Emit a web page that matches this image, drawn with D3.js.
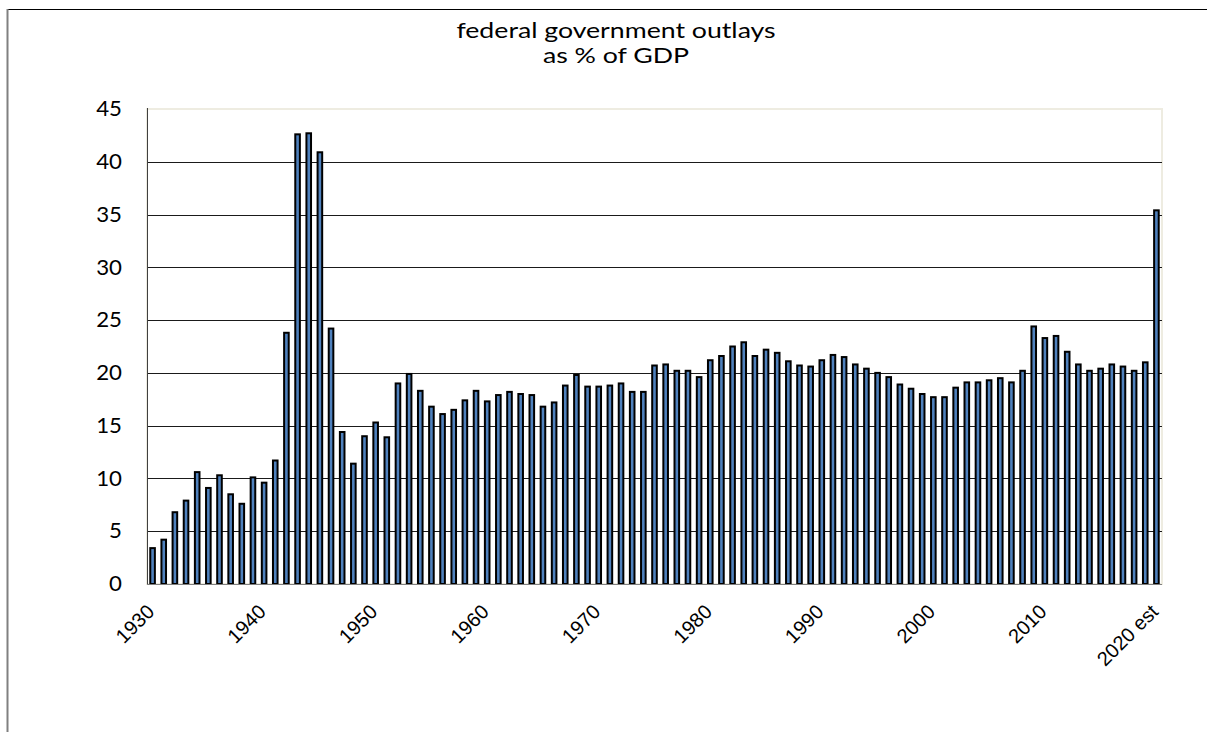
<!DOCTYPE html>
<html>
<head>
<meta charset="utf-8">
<script src="https://cdn.jsdelivr.net/npm/d3@7"></script>
<style>
  html, body { margin: 0; padding: 0; background: #fff; }
  svg { display: block; }
</style>
</head>
<body>
<svg id="chart" width="1207" height="732"></svg>
<script>
const years = d3.range(1930, 2021);
const values = [
  3.4, 4.2, 6.8, 7.9, 10.6, 9.1, 10.3, 8.5, 7.6, 10.1,
  9.6, 11.7, 23.8, 42.6, 42.7, 40.9, 24.2, 14.4, 11.4, 14.0,
  15.3, 13.9, 19.0, 19.9, 18.3, 16.8, 16.1, 16.5, 17.4, 18.3,
  17.3, 17.9, 18.2, 18.0, 17.9, 16.8, 17.2, 18.8, 19.8, 18.7,
  18.7, 18.8, 19.0, 18.2, 18.2, 20.7, 20.8, 20.2, 20.2, 19.6,
  21.2, 21.6, 22.5, 22.9, 21.6, 22.2, 21.9, 21.1, 20.7, 20.6,
  21.2, 21.7, 21.5, 20.8, 20.4, 20.0, 19.6, 18.9, 18.5, 18.0,
  17.7, 17.7, 18.6, 19.1, 19.1, 19.3, 19.5, 19.1, 20.2, 24.4,
  23.3, 23.5, 22.0, 20.8, 20.2, 20.4, 20.8, 20.6, 20.2, 21.0,
  35.4
];
const yTicks = [0, 5, 10, 15, 20, 25, 30, 35, 40, 45];
const xTickLabels = {1930: "1930", 1940: "1940", 1950: "1950", 1960: "1960", 1970: "1970",
                     1980: "1980", 1990: "1990", 2000: "2000", 2010: "2010", 2020: "2020 est"};
const titleLines = ["federal government outlays", "as % of GDP"];

const svg = d3.select("#chart");
const pLeft = 147, pRight = 1162, pTop = 109, pBottom = 584;

// outer frame
svg.append("line").attr("x1", 7).attr("x2", 1207).attr("y1", 9.5).attr("y2", 9.5)
  .attr("stroke", "#000").attr("stroke-width", 1);
svg.append("line").attr("x1", 7.5).attr("x2", 7.5).attr("y1", 9).attr("y2", 732)
  .attr("stroke", "#808080").attr("stroke-width", 2);

const x = d3.scaleBand().domain(years).range([pLeft, pRight]).paddingInner(0).paddingOuter(0);
const y = d3.scaleLinear().domain([0, 45]).range([pBottom, pTop]);

// plot area border (beige)
svg.append("rect").attr("x", pLeft).attr("y", pTop).attr("width", pRight - pLeft).attr("height", pBottom - pTop)
  .attr("fill", "none").attr("stroke", "#eeece1").attr("stroke-width", 2);

// gridlines
svg.append("g").selectAll("line").data(yTicks.filter(t => t > 0 && t < 45)).join("line")
  .attr("x1", pLeft).attr("x2", pRight)
  .attr("y1", d => Math.round(y(d)) + 0.5).attr("y2", d => Math.round(y(d)) + 0.5)
  .attr("stroke", "#1a1a1a").attr("stroke-width", 1);

// y axis
const ySx = 1.06;
const yAxis = d3.axisLeft(y).tickValues(yTicks).tickSize(0).tickPadding(25);
const gy = svg.append("g").attr("transform", `translate(${pLeft},0)`).call(yAxis);
gy.select(".domain").remove();
gy.selectAll("text").attr("font-family", "Lato, 'Open Sans', sans-serif")
  .attr("font-size", 21).attr("fill", "#000")
  .attr("x", -25 / ySx)
  .attr("transform", `scale(${ySx},1)`);
svg.append("line").attr("x1", pLeft + 0.5).attr("x2", pLeft + 0.5).attr("y1", pTop - 1).attr("y2", pBottom + 1)
  .attr("stroke", "#404040").attr("stroke-width", 1);

// bars
const bw = 4.6;
svg.append("g").selectAll("rect").data(years).join("rect")
  .attr("x", (d) => x(d) + x.bandwidth() / 2 - bw / 2)
  .attr("y", (d, i) => y(values[i]))
  .attr("width", bw)
  .attr("height", (d, i) => y(0) - y(values[i]))
  .attr("fill", "#4f81bd")
  .attr("stroke", "#000")
  .attr("stroke-width", 2);

// baseline
svg.append("line").attr("x1", pLeft).attr("x2", pRight).attr("y1", pBottom + 0.5).attr("y2", pBottom + 0.5)
  .attr("stroke", "#808080").attr("stroke-width", 1);

// x axis
const xAxis = d3.axisBottom(x).tickValues(Object.keys(xTickLabels).map(Number))
  .tickFormat(d => xTickLabels[d]).tickSize(0).tickPadding(0);
const gx = svg.append("g").attr("transform", `translate(0,${pBottom})`).call(xAxis);
gx.select(".domain").remove();
gx.selectAll("text")
  .attr("font-family", "'Liberation Sans', Arial, sans-serif")
  .attr("font-size", 20).attr("fill", "#000")
  .attr("text-anchor", "end")
  .attr("y", 0)
  .attr("dy", "0")
  .attr("transform", "translate(3,29) rotate(-45)");

// title
svg.append("g").selectAll("text").data(titleLines).join("text")
  .attr("transform", (d, i) => `translate(616,${38 + i * 25}) scale(1.27,1)`)
  .attr("text-anchor", "middle")
  .attr("font-family", "Lato, 'Open Sans', sans-serif")
  .attr("font-size", 21).attr("fill", "#000")
  .text(d => d);
</script>
</body>
</html>
